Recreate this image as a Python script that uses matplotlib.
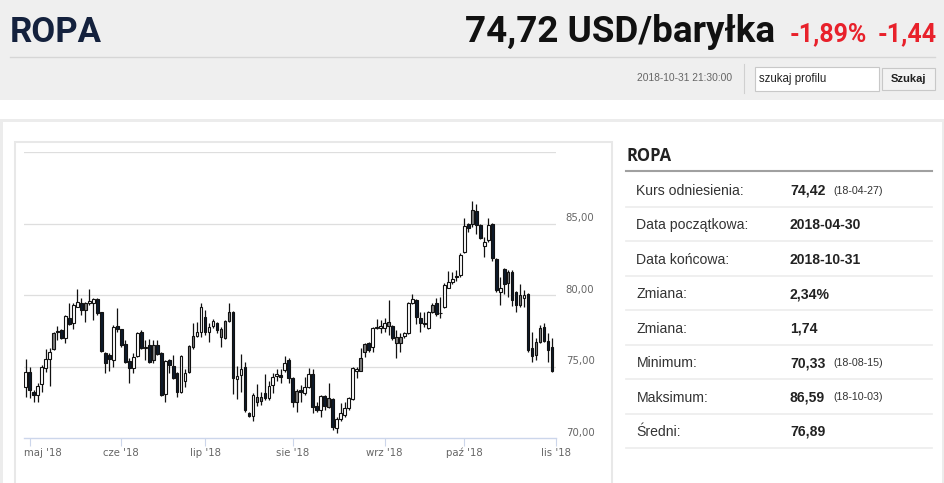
"""ROPA (Brent) - wykres świecowy 2018-04-30 .. 2018-10-31 z panelem statystyk."""

import matplotlib
matplotlib.use("Agg")
import matplotlib.pyplot as plt
import pandas as pd
from matplotlib.patches import Rectangle


# sesje (dni robocze, bez świąt)
dates = pd.bdate_range("2018-04-30", "2018-10-31")

opens = [
    73.59, 74.64, 73.20, 73.01, 73.78, 74.87, 75.50, 76.20, 77.48, 77.55,
    76.97, 78.37, 78.02, 79.18, 79.46, 78.95, 79.42, 79.42, 79.72, 78.79,
    75.97, 75.80, 75.46, 77.83, 77.60, 76.55, 75.39, 74.87, 75.76, 77.44,
    76.30, 76.51, 75.46, 76.51, 75.97, 73.07, 75.46, 75.04, 74.52, 73.24,
    74.01, 74.64, 76.39, 77.16, 77.44, 78.44, 77.44, 77.83, 78.02, 77.09,
    76.97, 78.21, 78.84, 74.10, 74.41, 74.94, 71.77, 71.54, 72.54, 72.61,
    73.12, 72.77, 73.71, 74.34, 74.41, 74.76, 75.46, 74.17, 72.54, 73.36,
    73.12, 73.54, 74.45, 72.24, 71.96, 72.94, 72.19, 72.70, 70.68, 71.31,
    71.61, 72.08, 72.70, 74.71, 74.71, 76.04, 76.62, 76.39, 77.67, 77.67,
    77.67, 77.83, 77.83, 76.62, 76.62, 77.13, 77.32, 79.46, 79.65, 78.37,
    77.97, 77.67, 78.84, 79.42, 78.72, 79.18, 80.51, 80.88, 81.33, 81.40,
    82.98, 84.94, 84.94, 85.88, 84.90, 83.45, 83.85, 84.94, 82.52, 80.19,
    81.82, 80.82, 81.63, 80.23, 79.30, 79.81, 80.05, 76.27, 75.80, 76.74,
    77.79, 76.78, 76.39,
]
highs = [
    75.50, 74.94, 73.36, 73.82, 75.11, 76.22, 76.27, 77.44, 77.83, 77.60,
    78.58, 79.42, 79.42, 80.42, 79.77, 79.53, 80.42, 79.77, 79.77, 78.84,
    76.04, 75.92, 77.90, 79.07, 77.65, 76.86, 75.62, 75.92, 77.44, 77.55,
    76.86, 76.90, 76.86, 76.86, 75.99, 75.46, 75.50, 75.80, 74.59, 75.78,
    74.80, 76.51, 78.02, 78.14, 79.46, 78.95, 78.02, 78.30, 78.14, 77.79,
    78.25, 79.46, 78.88, 75.04, 75.87, 75.34, 71.84, 73.17, 73.78, 73.24,
    74.45, 73.99, 74.57, 74.80, 74.80, 75.73, 75.57, 74.29, 73.40, 73.71,
    74.29, 74.87, 74.80, 72.54, 73.01, 73.00, 73.82, 72.77, 71.45, 72.45,
    72.54, 72.89, 74.94, 74.94, 76.32, 76.62, 76.74, 77.74, 78.30, 78.25,
    78.37, 79.65, 77.90, 77.55, 77.32, 77.44, 79.53, 80.05, 79.70, 78.84,
    78.84, 78.88, 79.42, 79.77, 79.84, 80.82, 81.68, 81.63, 81.75, 82.91,
    85.36, 85.01, 86.59, 86.34, 84.94, 84.08, 85.36, 85.01, 82.56, 81.28,
    81.87, 81.75, 81.75, 80.28, 80.75, 80.35, 80.12, 77.44, 76.97, 77.90,
    78.02, 77.32, 77.02,
]
lows = [
    72.89, 72.77, 72.54, 72.54, 73.24, 74.64, 73.64, 76.15, 76.86, 76.90,
    76.62, 77.90, 77.62, 79.18, 78.60, 78.14, 79.30, 78.25, 78.60, 76.04,
    74.52, 74.71, 74.94, 77.44, 76.39, 75.22, 73.82, 74.57, 75.69, 76.22,
    75.46, 75.27, 75.27, 75.80, 72.96, 72.54, 74.52, 74.10, 72.89, 73.17,
    73.59, 74.57, 76.22, 77.09, 77.09, 77.20, 76.74, 77.67, 77.32, 76.39,
    76.92, 78.14, 73.10, 72.70, 73.24, 71.84, 71.45, 71.21, 72.24, 72.31,
    72.66, 72.66, 73.17, 74.01, 73.87, 74.64, 73.87, 72.19, 71.84, 72.54,
    73.01, 73.47, 71.73, 71.84, 71.49, 71.96, 72.08, 70.56, 70.33, 71.21,
    71.49, 71.96, 72.66, 74.22, 74.66, 75.69, 76.04, 76.04, 77.60, 77.32,
    77.44, 77.20, 76.86, 75.62, 75.99, 76.97, 77.27, 79.37, 77.97, 77.44,
    77.79, 77.60, 78.72, 78.56, 78.37, 79.07, 80.47, 80.75, 81.00, 81.28,
    82.91, 84.43, 84.78, 84.24, 83.92, 82.68, 83.73, 82.38, 80.23, 79.30,
    80.05, 79.88, 79.23, 78.79, 79.18, 79.18, 75.99, 75.34, 75.46, 76.62,
    76.69, 75.34, 74.64,
]
closes = [
    74.64, 73.36, 73.01, 73.66, 74.94, 75.50, 76.04, 77.37, 77.39, 76.97,
    78.53, 77.97, 79.32, 79.53, 78.95, 79.42, 79.60, 79.70, 78.72, 76.08,
    75.27, 75.50, 77.79, 77.60, 76.51, 75.34, 74.92, 75.69, 77.37, 76.32,
    76.39, 75.34, 76.51, 75.87, 73.01, 75.41, 75.11, 74.17, 73.24, 75.73,
    74.57, 76.44, 77.16, 77.44, 79.18, 77.44, 77.79, 78.18, 77.55, 77.60,
    78.21, 78.84, 74.17, 74.36, 74.83, 71.96, 71.54, 73.01, 72.89, 72.89,
    72.82, 73.66, 74.29, 74.48, 74.24, 75.22, 74.17, 72.54, 73.31, 73.24,
    73.59, 74.45, 72.19, 71.96, 72.94, 72.24, 72.77, 70.79, 71.31, 71.77,
    72.08, 72.77, 74.87, 74.83, 75.57, 76.55, 76.15, 77.67, 77.79, 77.83,
    78.02, 78.09, 76.97, 77.04, 77.09, 77.32, 79.46, 79.72, 78.49, 78.07,
    78.02, 78.84, 79.30, 78.65, 78.77, 80.68, 80.88, 81.10, 81.24, 82.80,
    84.85, 84.66, 85.95, 84.90, 84.01, 83.73, 84.90, 82.56, 80.35, 80.51,
    80.75, 81.59, 79.65, 79.30, 80.00, 80.00, 76.15, 75.73, 76.74, 77.72,
    76.78, 76.16, 74.72,
]
# w = pusta świeca, g = szara, d = ciemna (po 10 sesji)
kinds = (
    "wddwwwwgdd" "wdwwdgwwdd" "ddwddddwwd" "wdgddwdddw"
    "wggwwdwwdg" "ggdwwddwgg" "dwwwdwddgd" "wwddwdgdww"
    "wwwwggdwww" "wgdggwwwdd" "wwgdwwwwdw" "wdgddwwddw"
    "dgddgwddgg" "ddd"
)

month_names = ["maj", "cze", "lip", "sie", "wrz", "paź", "lis"]
year_suffix = "'18"
y_labels = [70, 75, 80, 85]
grid_levels = [75, 80, 85, 90]

stat_labels = [
    "Kurs odniesienia:", "Data początkowa:", "Data końcowa:", "Zmiana:",
    "Zmiana:", "Minimum:", "Maksimum:", "Średni:",
]
stat_values = [
    "74,42", "2018-04-30", "2018-10-31", "2,34%", "1,74", "70,33", "86,59",
    "76,89",
]
stat_dates = ["(18-04-27)", "", "", "", "", "(18-08-15)", "(18-10-03)", ""]

W, H = 945, 483
PX = 0.72  # 1 px w punktach przy dpi=100

fig = plt.figure(figsize=(W / 100, H / 100), dpi=100)
bg = fig.add_axes([0, 0, 1, 1])
bg.set_xlim(0, W)
bg.set_ylim(H, 0)
bg.axis("off")

# tło strony
bg.add_patch(Rectangle((0, 0), W, 100, facecolor="#efefef", lw=0))
bg.add_patch(Rectangle((0, 119), W, H - 119, facecolor="#ececec", lw=0))
bg.add_patch(Rectangle((3, 122), W - 6, H - 122, facecolor="white", lw=0))
bg.add_patch(
    Rectangle((14.5, 141.5), 597, 400, facecolor="white",
              edgecolor="#e8e8e8", lw=1.5)
)

# nagłówek
bg.text(10, 42, "ROPA", fontsize=25, fontweight="bold", family="Roboto",
        color="#14213d", va="baseline")
bg.text(775, 42, "74,72 USD/baryłka", fontsize=26.5, fontweight="bold",
        family="Roboto", color="#111111", ha="right", va="baseline")
bg.text(790, 41, "-1,89%", fontsize=18, fontweight="bold", family="Roboto",
        color="#e8212b", va="baseline")
bg.text(937, 41, "-1,44", fontsize=18, fontweight="bold", family="Roboto",
        color="#e8212b", ha="right", va="baseline")
bg.plot([10, 935], [57, 57], color="#d6d6d6", lw=1)

bg.text(732, 78, "2018-10-31 21:30:00", fontsize=7.4, family="Liberation Sans",
        color="#666666", ha="right", va="center")
bg.plot([744, 744], [64, 93], color="#d0d0d0", lw=0.8)
bg.add_patch(Rectangle((755, 67), 124, 24, facecolor="white",
                       edgecolor="#c8c8c8", lw=0.8))
bg.text(759, 79, "szukaj profilu", fontsize=8.3, family="Liberation Sans",
        color="#222222", va="center")
bg.add_patch(Rectangle((882, 68), 53, 22, facecolor="#f3f3f3",
                       edgecolor="#c8c8c8", lw=0.8))
bg.text(908.5, 79.5, "Szukaj", fontsize=8, fontweight="bold",
        family="Liberation Sans", color="#222222", ha="center", va="center")

# panel statystyk
bg.text(627, 161, "ROPA", fontsize=12, fontweight="bold", family="Open Sans",
        color="#222222", va="baseline")
bg.plot([626, 932], [171, 171], color="#a0a0a0", lw=1.5)
for row, (lab, val, dt) in enumerate(zip(stat_labels, stat_values, stat_dates)):
    yc = 189.8 + 34.45 * row
    bg.text(636.5, yc + 5, lab, fontsize=10.1, family="Liberation Sans",
            color="#333333", va="baseline")
    bg.text(790, yc + 5, val, fontsize=10.1, fontweight="bold",
            family="Liberation Sans", color="#222222", va="baseline")
    if dt:
        bg.text(833, yc + 4, dt, fontsize=7.7, family="Liberation Sans",
                color="#333333", va="baseline")
    bg.plot([626, 932], [yc + 17.2, yc + 17.2], color="#eeeeee", lw=1.3)

# wykres świecowy
ax = fig.add_axes([24 / W, 1 - 438 / H, 532 / W, 286 / H])
ax.patch.set_visible(False)
n = len(dates)
ax.set_xlim(-0.4, n)
ax.set_ylim(70, 90)
for side in ("top", "right", "left"):
    ax.spines[side].set_visible(False)
ax.spines["bottom"].set_color("#ccd6eb")
ax.spines["bottom"].set_linewidth(1)
ax.set_yticks(grid_levels)
ax.yaxis.grid(True, color="#dedede", lw=0.9)
ax.set_axisbelow(True)
ax.tick_params(axis="y", length=0, labelleft=False)

month_periods = dates.to_period("M")
tick_pos = [i for i in range(1, n) if month_periods[i] != month_periods[i - 1]]
tick_pos.append(n)  # 1 listopada - koniec osi
ax.set_xticks(tick_pos)
ax.set_xticklabels([])
ax.tick_params(axis="x", length=8 * PX, width=0.8, color="#ccd6eb",
               direction="out")

for k, (pos, name) in enumerate(zip(tick_pos, month_names)):
    ha, dx = ("left", -5.5) if k == 0 else ("center", 0)
    ax.annotate(f"{name} {year_suffix}", xy=(pos, 0),
                xycoords=("data", "axes fraction"),
                xytext=(dx * PX, -15 * PX), textcoords="offset points",
                ha=ha, va="center", fontsize=7.3, color="#666666",
                annotation_clip=False)

for v in y_labels:
    ax.annotate(f"{v:.2f}".replace(".", ","), xy=(1, v),
                xycoords=("axes fraction", "data"),
                xytext=(9.7 * PX, 5.3 * PX), textcoords="offset points",
                ha="left", va="center", fontsize=7.3, color="#666666",
                annotation_clip=False)

fills = {"w": "#ffffff", "g": "#7f7f7f", "d": "#0d1a2b"}
body_w = 0.68
for i, (o, h, lo, c, k) in enumerate(zip(opens, highs, lows, closes, kinds)):
    ax.vlines(i, lo, h, color="#111111", lw=0.9, zorder=2)
    bottom = min(o, c)
    height = max(abs(c - o), 0.04)
    ax.add_patch(Rectangle((i - body_w / 2, bottom), body_w, height,
                           facecolor=fills[k], edgecolor="#111111",
                           lw=0.8, zorder=3))

fig.savefig("out.png", dpi=100)
plt.close(fig)
